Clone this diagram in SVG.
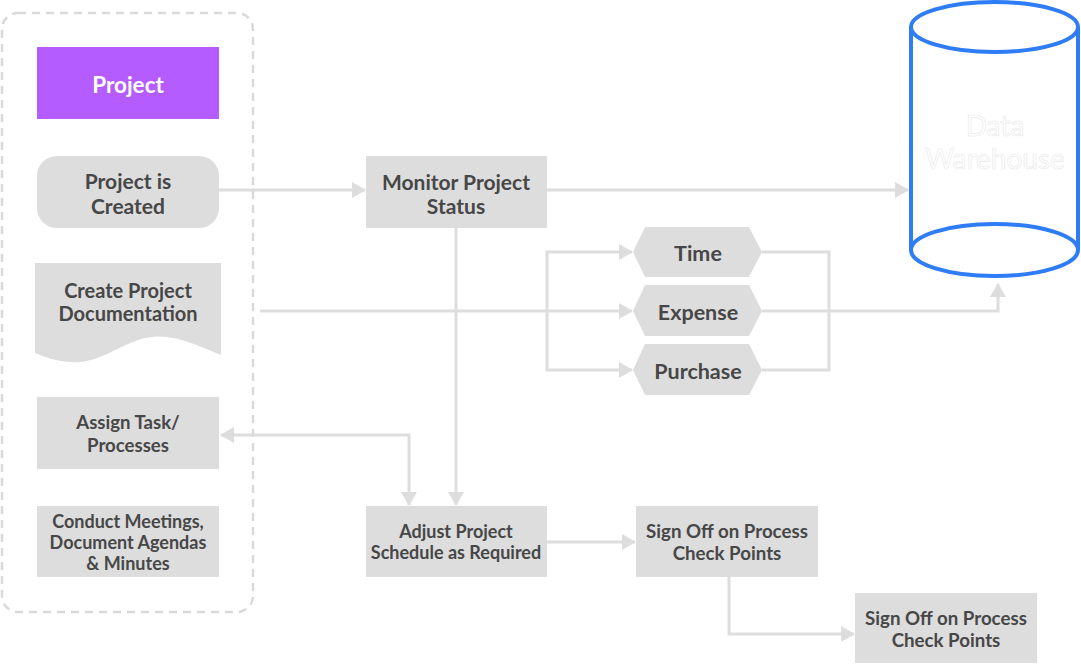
<svg xmlns="http://www.w3.org/2000/svg" width="1081" height="665" viewBox="0 0 1081 665">
<defs>
<marker id="ah" viewBox="0 0 14 16" refX="13" refY="8" markerWidth="14" markerHeight="16" markerUnits="userSpaceOnUse" orient="auto-start-reverse">
<path d="M0,0 L14,8 L0,16 Z" fill="#dddddd"/>
</marker>
</defs>
<style>
.box{fill:#dddddd}
.t{font-family:Lato,"Open Sans","Liberation Sans",sans-serif;font-weight:bold;fill:#474747;text-anchor:middle;dominant-baseline:central}
.c{fill:none;stroke:#dddddd;stroke-width:3}
.dw{font-family:Lato,"Open Sans","Liberation Sans",sans-serif;font-size:28px;text-anchor:middle;dominant-baseline:central;fill:#ffffff;stroke:#ebebeb;stroke-width:0.7}
</style>
<rect x="2" y="13" width="251" height="599" rx="16" fill="none" stroke="#d9d9d9" stroke-width="2.5" stroke-dasharray="8,6"/>
<g id="connectors">
<path class="c" d="M219,190 H365" marker-end="url(#ah)"/>
<path class="c" d="M547,190 H908" marker-end="url(#ah)"/>
<path class="c" d="M260,311 H632" marker-end="url(#ah)"/>
<path class="c" d="M547,311 V252 H632" marker-end="url(#ah)"/>
<path class="c" d="M547,311 V370 H632" marker-end="url(#ah)"/>
<path class="c" d="M762,252 H829 V370 H762"/>
<path class="c" d="M762,311 H998 V284" marker-end="url(#ah)"/>
<path class="c" d="M456,228 V505" marker-end="url(#ah)"/>
<path class="c" d="M221,435 H409 V505" marker-start="url(#ah)" marker-end="url(#ah)"/>
<path class="c" d="M547,542 H635" marker-end="url(#ah)"/>
<path class="c" d="M729,577 V634 H854" marker-end="url(#ah)"/>
</g>
<g id="project">
<rect x="37" y="47" width="182" height="72" fill="#b45cff"/>
<text class="t" x="128" y="84" font-size="22.5" style="fill:#ffffff">Project</text>
</g>
<g id="project-created">
<rect class="box" x="37" y="156" width="182" height="72" rx="20"/>
<text class="t" x="128" y="180" font-size="21">Project is</text>
<text class="t" x="128" y="205" font-size="21">Created</text>
</g>
<g id="create-doc">
<path class="box" d="M35,263 H221 V355 C195,344 170,332 145,338 C115,346 100,364 70,362 C55,361 45,357 35,353 Z"/>
<text class="t" x="128" y="290" font-size="20">Create Project</text>
<text class="t" x="128" y="313" font-size="20">Documentation</text>
</g>
<g id="assign-task">
<rect class="box" x="37" y="397" width="182" height="72"/>
<text class="t" x="128" y="422" font-size="18.6">Assign Task/</text>
<text class="t" x="128" y="445" font-size="18.6">Processes</text>
</g>
<g id="conduct-meetings">
<rect class="box" x="37" y="506" width="182" height="71"/>
<text class="t" x="128" y="521" font-size="18">Conduct Meetings,</text>
<text class="t" x="128" y="542" font-size="18">Document Agendas</text>
<text class="t" x="128" y="563" font-size="18">&amp; Minutes</text>
</g>
<g id="monitor">
<rect class="box" x="366" y="156" width="181" height="72"/>
<text class="t" x="456" y="181" font-size="21">Monitor Project</text>
<text class="t" x="456" y="205" font-size="21">Status</text>
</g>
<g id="time">
<path class="box" d="M633,252 L645,227 H749 L762,252 L749,277 H645 Z"/>
<text class="t" x="698" y="253" font-size="21.5">Time</text>
</g>
<g id="expense">
<path class="box" d="M633,311 L645,285 H749 L762,311 L749,336 H645 Z"/>
<text class="t" x="698" y="312" font-size="21.5">Expense</text>
</g>
<g id="purchase">
<path class="box" d="M633,370 L645,344 H749 L762,370 L749,395 H645 Z"/>
<text class="t" x="698" y="371" font-size="21.5">Purchase</text>
</g>
<g id="data-warehouse">
<path d="M911,27 V250 A83.5,26 0 0 0 1078,250 V27" fill="#ffffff" stroke="#2e7cf6" stroke-width="4"/>
<ellipse cx="994.5" cy="27" rx="83.5" ry="25" fill="#ffffff" stroke="#2e7cf6" stroke-width="4"/>
<path d="M911,250 A83.5,26 0 0 1 1078,250" fill="none" stroke="#2e7cf6" stroke-width="4"/>
<text class="dw" x="995" y="125">Data</text>
<text class="dw" x="995" y="158">Warehouse</text>
</g>
<g id="adjust">
<rect class="box" x="366" y="506" width="181" height="71"/>
<text class="t" x="456" y="531" font-size="18">Adjust Project</text>
<text class="t" x="456" y="552" font-size="18">Schedule as Required</text>
</g>
<g id="signoff-1">
<rect class="box" x="636" y="506" width="182" height="71"/>
<text class="t" x="727" y="531" font-size="18.7">Sign Off on Process</text>
<text class="t" x="727" y="553" font-size="18.7">Check Points</text>
</g>
<g id="signoff-2">
<rect class="box" x="855" y="593" width="182" height="70"/>
<text class="t" x="946" y="618" font-size="18.7">Sign Off on Process</text>
<text class="t" x="946" y="640" font-size="18.7">Check Points</text>
</g>
</svg>
